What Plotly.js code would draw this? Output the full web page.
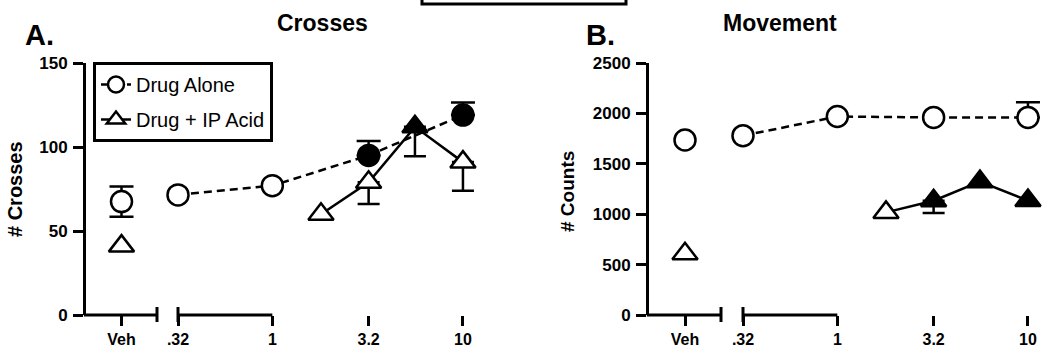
<!DOCTYPE html>
<html>
<head>
<meta charset="utf-8">
<script src="https://cdn.plot.ly/plotly-3.0.1.min.js"></script>
<style>html,body{margin:0;padding:0;background:#fff;}#chart{width:1044px;height:354px;}</style>
</head>
<body>
<div id="chart"></div>
<script>
// ---- data ----
const vehCategory = ['Veh'];
const doses = [0.32, 1, 3.2, 10];
const doseLabels = ['.32', '1', '3.2', '10'];
const ipDoses = [1.8, 3.2, 5.6, 10];

// Panel A: Crosses
const crossAloneVeh = [67.5];
const crossAloneVehSem = [9];
const crossIpVeh = [41];
const crossAlone = [71.5, 77, 95, 119];
const crossAloneSemUp = [null, null, 8.5, 7.5];
const crossAloneSig = [false, false, true, true];
const crossIp = [60, 79, 112, 91];
const crossIpSemDown = [null, 13, 17.5, 17];
const crossIpSig = [false, false, true, false];

// Panel B: Movement
const countAloneVeh = [1736];
const countIpVeh = [607];
const countAlone = [1779, 1969, 1960, 1960];
const countAloneSemUp = [null, null, null, 150];
const countAloneSig = [false, false, false, false];
const countIp = [1018, 1134, 1323, 1135];
const countIpSemDown = [null, 123, null, null];
const countIpSig = [false, true, true, true];

const crossTicks = [0, 50, 100, 150];
const countTicks = [0, 500, 1000, 1500, 2000, 2500];

// ---- helpers ----
const W = 1044, H = 354;
const FONT = 'Liberation Sans, Arial, Helvetica, sans-serif';
const px = v => v / W;
const py = v => 1 - v / H;
const fill = sig => sig.map(s => s ? 'black' : 'white');
const num = a => a.map(v => v == null ? NaN : v);
const zeroIf = a => a.map(v => v == null ? NaN : 0);

const circ = {symbol: 'circle', size: 21, line: {color: 'black', width: 2.5}};
const tri = {symbol: 'triangle-up', size: 22, line: {color: 'black', width: 2.5}};

function errUp(a) { return {type: 'data', symmetric: false, array: num(a), arrayminus: zeroIf(a), color: 'black', thickness: 2.5, width: 12}; }
function errDown(a) { return {type: 'data', symmetric: false, array: zeroIf(a), arrayminus: num(a), color: 'black', thickness: 2.5, width: 11}; }

const traces = [];
function panel(xv, xd, ya, aloneVeh, aloneVehSem, ipVeh, alone, aloneUp, aloneSig, ip, ipDown, ipSig, legend) {
  traces.push({x: vehCategory, y: aloneVeh, xaxis: xv, yaxis: ya, mode: 'markers', cliponaxis: false, showlegend: false,
    legendgroup: 'alone', marker: Object.assign({}, circ, {color: 'white'}),
    error_y: aloneVehSem ? {type: 'data', array: num(aloneVehSem), color: 'black', thickness: 2.5, width: 12} : undefined});
  traces.push({x: doses, y: alone, xaxis: xd, yaxis: ya, mode: 'lines+markers', cliponaxis: false, name: 'Drug Alone',
    showlegend: legend, legendgroup: 'alone',
    line: {color: 'black', width: 2.5, dash: '8px,5px'},
    marker: Object.assign({}, circ, {color: fill(aloneSig)}), error_y: errUp(aloneUp)});
  traces.push({x: vehCategory, y: ipVeh, xaxis: xv, yaxis: ya, mode: 'markers', cliponaxis: false, showlegend: false,
    legendgroup: 'ip', marker: Object.assign({}, tri, {color: 'white'})});
  traces.push({x: ipDoses, y: ip, xaxis: xd, yaxis: ya, mode: 'lines+markers', cliponaxis: false, name: 'Drug + IP Acid',
    showlegend: legend, legendgroup: 'ip',
    line: {color: 'black', width: 2.5},
    marker: Object.assign({}, tri, {color: fill(ipSig)}), error_y: errDown(ipDown)});
}
panel('x', 'x2', 'y', crossAloneVeh, crossAloneVehSem, crossIpVeh, crossAlone, crossAloneSemUp, crossAloneSig, crossIp, crossIpSemDown, crossIpSig, true);
panel('x3', 'x4', 'y2', countAloneVeh, null, countIpVeh, countAlone, countAloneSemUp, countAloneSig, countIp, countIpSemDown, countIpSig, false);

const yDom = [py(315), py(63)];
const axBase = {ticks: 'outside', ticklen: 10, tickwidth: 3, tickcolor: 'black',
  showgrid: false, zeroline: false, fixedrange: true};
const xTickFont = {family: FONT, size: 16, weight: 'bold', color: 'black'};
const yTickFont = {family: FONT, size: 17, weight: 'bold', color: 'black'};

// px per decade on the dose axes, and a small pad past the last dose so error caps are not clipped
const DECADE = 190, PAD = 16;
function vehAxis(l, r, ya) {
  return Object.assign({}, axBase, {type: 'category', domain: [px(l), px(r)], anchor: ya, range: [-1, 1], showline: false, tickfont: xTickFont});
}
function doseAxis(l, r, ya) {
  const lo = Math.log10(doses[0]), hi = Math.log10(doses[doses.length - 1]);
  return Object.assign({}, axBase, {type: 'log', domain: [px(l), px(r + PAD)], anchor: ya, range: [lo, hi + PAD / DECADE],
    showline: false, tickvals: doses, ticktext: doseLabels, tickfont: xTickFont});
}
function yAxis(ticks, xa) {
  return Object.assign({}, axBase, {domain: yDom, anchor: xa, range: [ticks[0], ticks[ticks.length - 1]], tickvals: ticks,
    showline: true, linewidth: 3, linecolor: 'black', tickfont: yTickFont, ticklabelstandoff: 2});
}

const L = {color: 'black', width: 3};
function cap(xref, xpos) {
  return {type: 'line', xref: xref + ' domain', x0: xpos, x1: xpos, yref: 'paper', y0: py(322), y1: py(307), line: L};
}
function vehLine(xref, yref) {
  return {type: 'line', xref: xref + ' domain', x0: -0.03, x1: 1, yref: yref + ' domain', y0: 0, y1: 0, line: L};
}
function doseLine(xref, yref) {
  return {type: 'line', xref: xref, x0: Math.log10(doses[0]), x1: Math.log10(doses[doses.length - 1]), yref: yref + ' domain', y0: 0, y1: 0, line: L};
}

const ann = (text, x, y, size, opts) => Object.assign({text: text, x: x, y: y, xref: 'paper', yref: 'paper', showarrow: false,
  font: {family: FONT, size: size, weight: 'bold', color: 'black'}}, opts || {});

const layout = {
  width: W, height: H, margin: {l: 0, r: 0, t: 0, b: 0},
  paper_bgcolor: 'white', plot_bgcolor: 'white',
  font: {family: FONT, color: 'black'},
  xaxis: vehAxis(86, 157, 'y'),
  xaxis2: doseAxis(178, 463, 'y'),
  yaxis: yAxis(crossTicks, 'x'),
  xaxis3: vehAxis(649, 721, 'y2'),
  xaxis4: doseAxis(743, 1028, 'y2'),
  yaxis2: yAxis(countTicks, 'x3'),
  showlegend: true,
  legend: {x: px(93), y: py(62), xanchor: 'left', yanchor: 'top', bgcolor: 'white', bordercolor: 'black', borderwidth: 3,
    font: {family: FONT, size: 20, color: 'black'}, traceorder: 'grouped', tracegroupgap: 6, itemwidth: 30},
  shapes: [
    vehLine('x', 'y'), doseLine('x2', 'y'), vehLine('x3', 'y2'), doseLine('x4', 'y2'),
    cap('x', 1), cap('x2', 0), cap('x3', 1), cap('x4', 0),
    {type: 'rect', xref: 'paper', yref: 'paper', x0: px(422), x1: px(626), y0: py(4), y1: 1.1, line: L}
  ],
  annotations: [
    ann('Crosses', px(274.5), py(23), 23, {yanchor: 'middle'}),
    ann('Movement', px(838.5), py(23), 23, {yanchor: 'middle'}),
    ann('A.', px(23), py(35), 29, {xanchor: 'left', yanchor: 'middle'}),
    ann('B.', px(584), py(35), 29, {xanchor: 'left', yanchor: 'middle'}),
    ann('# Crosses', px(15), py(189), 20, {textangle: -90, xanchor: 'center', yanchor: 'middle'}),
    ann('# Counts', px(567), py(192), 19, {textangle: -90, xanchor: 'center', yanchor: 'middle'})
  ],
  hovermode: false
};

Plotly.newPlot('chart', traces, layout, {staticPlot: true, displayModeBar: false});
</script>
</body>
</html>
